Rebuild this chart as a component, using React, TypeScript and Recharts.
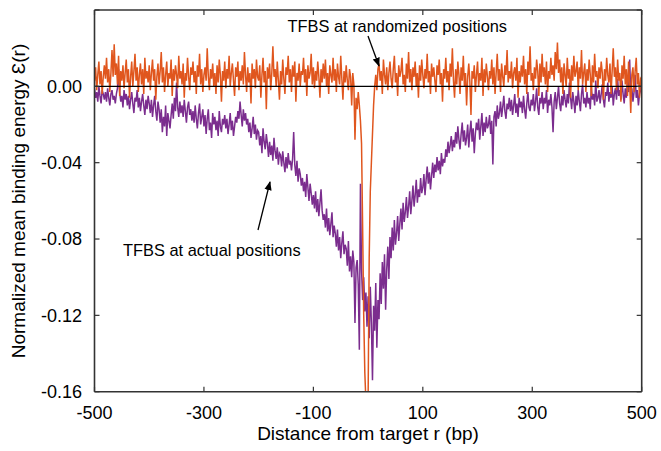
import React from "react";
import { LineChart, Line, XAxis, YAxis, ReferenceLine } from "recharts";

// Distance from target r (bp): grid from -500 to 500 in 2 bp steps
const START_BP = -500;
const STEP_BP = 2;

// Normalized mean binding energy, in units of 1e-3, TFBS at actual positions
const ACTUAL = [
  -1, -6, -3, -8, 0, -5, -9, -2, -4, -7,
  -3, -8, -1, -6, -10, -4, -2, -7, -5, -9,
  -4, -1, 9, -3, -8, -5, -11, -2, -7, -4,
  -10, -5, -12, -7, -3, -9, -14, -6, -8, -2,
  -11, -6, -13, -8, -4, -10, -15, -7, -12, -5,
  -9, -14, -7, -16, -10, -5, -13, -18, -8, -12,
  -19, -12, -24, -16, -21, -10, -26, -14, -18, -22,
  -15, -9, -17, -6, -13, 2, -11, -16, -8, -14,
  -10, -16, -7, -13, -19, -11, -8, -15, -12, -18,
  -13, -19, -10, -17, -22, -14, -9, -20, -16, -12,
  -21, -15, -25, -17, -12, -23, -19, -27, -14, -20,
  -16, -23, -18, -26, -13, -21, -24, -17, -20, -15,
  -22, -17, -25, -20, -14, -23, -18, -26, -21, -16,
  -19, -13, -17, -8, -15, -21, -12, -18, -14, -20,
  -17, -24, -19, -27, -22, -16, -25, -20, -28, -23,
  -24, -31, -26, -35, -22, -29, -33, -25, -30, -37,
  -29, -36, -31, -39, -27, -34, -38, -32, -41, -35,
  -36, -42, -34, -40, -45, -37, -43, -35, -41, -39,
  -44, -38, -24, -41, -47, -39, -50, -43, -46, -52,
  -48, -55, -50, -58, -46, -53, -60, -51, -56, -62,
  -57, -64, -55, -66, -59, -68, -61, -54, -65, -70,
  -67, -74, -64, -76, -69, -78, -72, -66, -79, -73,
  -77, -84, -75, -86, -79, -90, -82, -76, -88, -83,
  -85, -94, -81, -97, -89, -100, -86, -92, -124, -95,
  -91, -104, -138, -51, -96, -112, -100, -118, -108, -126,
  -110, -132, -105, -124, -154, -115, -128, -103, -137, -112,
  -122, -98, -114, -92, -106, -88, -117, -96, -84, -101,
  -79, -90, -74, -86, -70, -83, -77, -68, -81, -72,
  -64, -75, -61, -71, -66, -58, -69, -63, -55, -67,
  -60, -52, -63, -57, -49, -61, -54, -58, -48, -56,
  -53, -46, -57, -49, -42, -51, -45, -54, -47, -40,
  -48, -41, -45, -37, -44, -39, -46, -35, -42, -38,
  -40, -33, -37, -29, -35, -31, -26, -34, -28, -32,
  -24, -30, -21, -28, -33, -25, -19, -29, -23, -31,
  -27, -20, -32, -24, -18, -29, -22, -35, -25, -19,
  -23, -17, -28, -21, -14, -26, -19, -24, -16, -22,
  -20, -15, -25, -18, -41, -16, -13, -21, -10, -17,
  -14, -8, -16, -11, -5, -13, -17, -9, -12, -6,
  -13, -7, -15, -10, -4, -14, -9, -16, -6, -11,
  -8, -14, -5, -12, -17, -9, -3, -11, -13, -7,
  -10, -4, -13, -8, -1, -11, -15, -6, -9, -3,
  -12, -6, -9, -2, -14, -7, -10, -4, -11, -24,
  -8, -3, -12, -6, 0, -9, -13, -5, -10, -2,
  -7, -11, -4, -9, 2, -6, -12, -3, -8, -14,
  -5, -10, -2, -8, -13, -4, 1, -9, -6, -11,
  -3, -9, -6, -12, -1, -7, -4, -10, 3, -8,
  -6, -2, -9, -4, 1, -7, -11, -3, -5, 2,
  -8, -3, -6, 0, -10, -4, -1, -7, 4, -5,
  -2, -7, 3, -4, -9, -1, -6, 2, -3, 14,
  -5, -1, -8, -3, 6, -6, -2, -10, -4, 0,
  -4,
];

// Normalized mean binding energy, in units of 1e-3, TFBS at randomized positions
const RANDOMIZED = [
  3, 10, -2, 6, 13, 1, 8, -4, 5, 11,
  4, 15, 2, 9, -3, 7, 19, 5, 22, 6,
  12, 1, 16, -5, 8, 3, 11, -1, 7, 14,
  2, 9, -6, 5, 13, 0, 8, 17, 3, 10,
  -3, 6, 12, 1, 9, -4, 15, 4, 8, 2,
  11, -2, 7, 14, 3, 9, -7, 5, 12, 1,
  8, 18, 2, 10, -3, 6, 13, 0, 7, 4,
  14, -5, 9, 3, 11, 6, -1, 16, 4, 8,
  1, 12, -6, 7, 3, 15, 5, -2, 10, 6,
  13, 2, 8, -4, 11, 5, 17, 1, 9, -3,
  6, 10, 3, 20, 5, -2, 9, 4, 12, 0,
  7, -4, 11, 2, 14, 6, -8, 8, 3, 13,
  -1, 9, 4, 16, 0, 7, 12, 3, -5, 10,
  5, 13, -2, 8, 3, 11, 1, 18, 6, -3,
  10, 2, 7, -9, 12, 4, 9, -1, 14, 5,
  3, 11, -6, 6, 15, 2, 8, -12, 10, 4,
  12, -2, 7, 21, 5, 9, 0, 13, 3, -7,
  8, 1, 14, 4, -4, 10, 6, 16, 2, 9,
  -3, 11, 5, 13, -8, 7, 3, 12, 0, 8,
  6, 15, 2, 9, -5, 11, 4, 7, 17, 1,
  10, -1, 8, 3, 13, 5, -6, 9, 2, 12,
  4, 14, 0, 7, -4, 11, 6, 2, 15, 3,
  9, -3, 12, 5, 1, 16, 4, -7, 8, 2,
  11, 3, -2, 9, 5, -10, 7, 1, -28, -6,
  -12, -3, -10, -18, -30, -74, -120, -150, -165, -165,
  -165, -90, -55, -40, -25, -10, 0, 6, -2, 9,
  12, 3, 8, -4, 14, 6, 1, 10, -2, 7,
  13, 4, -1, 9, 16, 2, 7, -5, 11, 5,
  8, 15, 1, 6, -3, 12, 4, 18, 2, 9,
  -2, 10, 5, 13, 0, 7, -6, 11, 3, 14,
  6, -1, 9, 4, 17, 2, 8, -4, 12, 5,
  10, 3, -3, 11, 6, 14, 1, 7, -8, 9,
  4, 15, 2, 8, -2, 12, 5, 20, 3, -6,
  9, 1, 13, 6, -4, 10, 3, 16, 0, 7,
  -10, 5, 12, 2, -15, 8, 4, 11, -3, 6,
  13, 0, 7, 3, 15, -5, 9, 2, 12, 5,
  -2, 8, 4, 14, 1, 10, -4, 7, 17, 3,
  9, -3, 12, 5, 0, 11, 6, 19, 2, 8,
  4, 13, -1, 7, 10, 3, 15, -6, 8, 2,
  11, 5, 16, 1, 9, -4, 13, 6, 21, 3,
  7, -2, 10, 4, 14, 8, -5, 12, 2, 17,
  5, 10, 1, 13, -3, 8, 4, 15, 6, 11,
  3, 18, 9, 23, 7, 14, 2, 10, -4, 12,
  6, 0, 15, 4, 9, -6, 11, 3, 16, 5,
  8, 13, -2, 10, 4, 19, 1, 7, 12, -3,
  9, 3, 14, 6, -5, 11, 2, 17, 5, 8,
  -1, 10, 4, 13, 7, -7, 9, 3, 15, 6,
  2, 12, -4, 8, 20, 5, 10, -2, 14, 3,
  7, -8, 11, 4, 16, 1, 9, -5, 13, 2,
  -14, 6, 10, -3, 8, 15, 1, 7, -6, 4,
  3,
];

const X_TICKS = [-500, -300, -100, 100, 300, 500];
const Y_TICKS = [40, 0, -40, -80, -120, -160];

const X_DOMAIN: [number, number] = [-500, 500];
const Y_DOMAIN: [number, number] = [-160, 40];

const data = ACTUAL.map((a, i) => ({
  bp: START_BP + STEP_BP * i,
  actual: a,
  randomized: RANDOMIZED[i],
}));

const FONT = "'Liberation Sans', Arial, Helvetica, sans-serif";
const AXIS_COLOR = "#333";
const ORANGE = "#e0561e";
const PURPLE = "#7b2d8e";

// plot box layout (px)
const W = 661;
const H = 451;
const M = { top: 10, right: 19.3, bottom: 0, left: 0 };
const X_AXIS_H = 59.3;
const Y_AXIS_W = 94.5;
const PLOT = {
  left: M.left + Y_AXIS_W,
  right: W - M.right,
  top: M.top,
  bottom: H - M.bottom - X_AXIS_H,
};
const TICK_PX = 5;
const px = (v: number) =>
  PLOT.left + ((v - X_DOMAIN[0]) / (X_DOMAIN[1] - X_DOMAIN[0])) * (PLOT.right - PLOT.left);
const py = (v: number) =>
  PLOT.bottom - ((v - Y_DOMAIN[0]) / (Y_DOMAIN[1] - Y_DOMAIN[0])) * (PLOT.bottom - PLOT.top);

const fmtY = (v: number) => (v / 1000).toFixed(2);

export default function App() {
  return (
    <div style={{ position: "absolute", left: 0, top: 0, width: W, height: H, background: "#fff" }}>
      <LineChart width={W} height={H} data={data} margin={M}>
        <XAxis
          xAxisId="main"
          dataKey="bp"
          type="number"
          domain={X_DOMAIN}
          allowDataOverflow
          ticks={X_TICKS}
          height={X_AXIS_H}
          tickLine={false}
          tickSize={0}
          tickMargin={15}
          axisLine={{ stroke: AXIS_COLOR, strokeWidth: 1.6 }}
          tick={{ fontSize: 18, fill: "#000", fontFamily: FONT }}
        />
        <XAxis
          xAxisId="top"
          dataKey="bp"
          type="number"
          orientation="top"
          mirror
          domain={X_DOMAIN}
          allowDataOverflow
          ticks={X_TICKS}
          tick={false}
          tickLine={false}
          axisLine={{ stroke: AXIS_COLOR, strokeWidth: 1.6 }}
        />
        <YAxis
          yAxisId="main"
          type="number"
          domain={Y_DOMAIN}
          allowDataOverflow
          ticks={Y_TICKS}
          width={Y_AXIS_W}
          tickLine={false}
          tickSize={0}
          tickMargin={12.5}
          tickFormatter={fmtY}
          axisLine={{ stroke: AXIS_COLOR, strokeWidth: 1.6 }}
          tick={{ fontSize: 18, fill: "#000", fontFamily: FONT }}
        />
        <YAxis
          yAxisId="right"
          type="number"
          orientation="right"
          mirror
          domain={Y_DOMAIN}
          allowDataOverflow
          ticks={Y_TICKS}
          tick={false}
          tickLine={false}
          axisLine={{ stroke: AXIS_COLOR, strokeWidth: 1.6 }}
        />
        <Line
          xAxisId="main"
          yAxisId="main"
          dataKey="actual"
          type="linear"
          stroke={PURPLE}
          strokeWidth={1.5}
          dot={false}
          isAnimationActive={false}
        />
        <Line
          xAxisId="main"
          yAxisId="main"
          dataKey="randomized"
          type="linear"
          stroke={ORANGE}
          strokeWidth={1.5}
          dot={false}
          isAnimationActive={false}
        />
        <ReferenceLine xAxisId="main" yAxisId="main" y={0} stroke="#000" strokeWidth={1.4} />
      </LineChart>
      <svg
        width={W}
        height={H}
        style={{ position: "absolute", left: 0, top: 0, pointerEvents: "none" }}
      >
        <defs>
          <marker id="arrowHead" viewBox="0 0 10 10" refX="9" refY="5" markerWidth="7" markerHeight="7" orient="auto">
            <path d="M0,1 L10,5 L0,9 z" fill="#000" />
          </marker>
        </defs>
        <g stroke={AXIS_COLOR} strokeWidth={1.2}>
          {X_TICKS.map((v) => (
            <g key={`xt${v}`}>
              <line x1={px(v)} x2={px(v)} y1={PLOT.bottom} y2={PLOT.bottom - TICK_PX} />
              <line x1={px(v)} x2={px(v)} y1={PLOT.top} y2={PLOT.top + TICK_PX} />
            </g>
          ))}
          {Y_TICKS.map((v) => (
            <g key={`yt${v}`}>
              <line x1={PLOT.left} x2={PLOT.left + TICK_PX} y1={py(v)} y2={py(v)} />
              <line x1={PLOT.right} x2={PLOT.right - TICK_PX} y1={py(v)} y2={py(v)} />
            </g>
          ))}
        </g>
        <text x={287.5} y={32} fontSize={16.4} fontFamily={FONT} fill="#000">
          TFBS at randomized positions
        </text>
        <line x1={368} x2={379} y1={36} y2={66} stroke="#000" strokeWidth={1.3} markerEnd="url(#arrowHead)" />
        <text x={123} y={256} fontSize={16.4} fontFamily={FONT} fill="#000">
          TFBS at actual positions
        </text>
        <line x1={258} x2={270} y1={230} y2={182} stroke="#000" strokeWidth={1.3} markerEnd="url(#arrowHead)" />
        <text x={368} y={440} fontSize={19} fontFamily={FONT} fill="#000" textAnchor="middle">
          Distance from target r (bp)
        </text>
        <text
          x={25}
          y={201}
          fontSize={19}
          fontFamily={FONT}
          fill="#000"
          textAnchor="middle"
          transform="rotate(-90 25 201)"
        >
          Normalized mean binding energy Ɛ(r)
        </text>
      </svg>
    </div>
  );
}
